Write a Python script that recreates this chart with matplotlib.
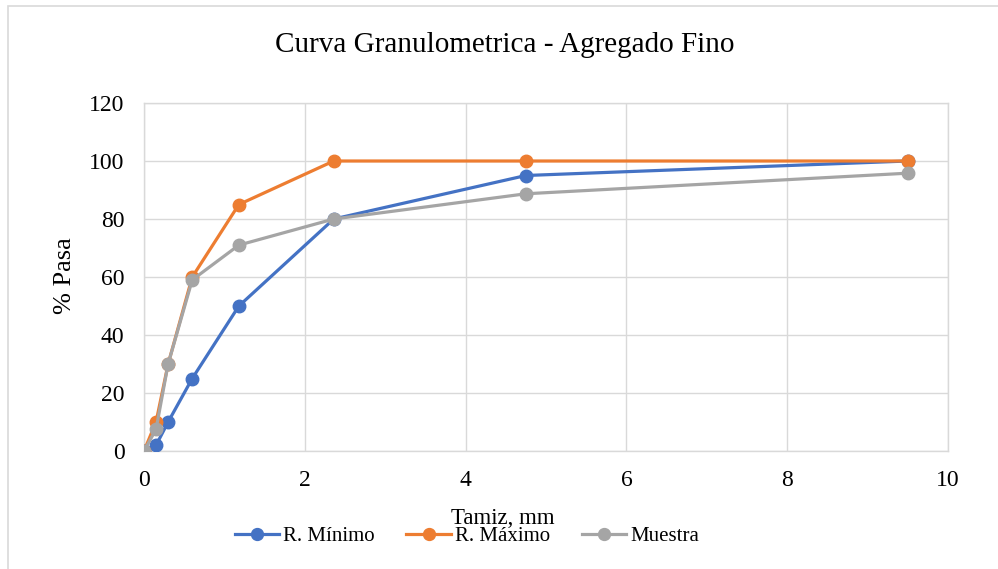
import matplotlib
matplotlib.use("Agg")
from matplotlib import pyplot as plt
from matplotlib.patches import Rectangle

# datos de la curva granulometrica
tamiz = [0, 0.15, 0.3, 0.6, 1.18, 2.36, 4.75, 9.5]
r_minimo = [0, 2, 10, 25, 50, 80, 95, 100]
r_maximo = [0, 10, 30, 60, 85, 100, 100, 100]
muestra = [0, 7.5, 30, 59, 71, 80, 88.7, 95.8]

plt.rcParams['font.family'] = ['Liberation Serif', 'DejaVu Serif']

fig = plt.figure(figsize=(9.98, 5.69), dpi=100)
# borde exterior del grafico (recortado a la derecha y abajo)
fig.patches.append(Rectangle((8 / 998, -0.05), 1.1, 1 - 6 / 569 + 0.05,
                             transform=fig.transFigure, fill=False,
                             edgecolor='#d9d9d9', linewidth=1.2))

ax = fig.add_axes([144 / 998, 1 - 451 / 569, 804 / 998, 348 / 569])

ax.plot(tamiz, r_minimo, color='#4472C4', lw=2.3, marker='o', ms=9, label='R. Mínimo', zorder=3)
ax.plot(tamiz, r_maximo, color='#ED7D31', lw=2.3, marker='o', ms=9, label='R. Máximo', zorder=3)
ax.plot(tamiz, muestra, color='#A5A5A5', lw=2.3, marker='o', ms=9, label='Muestra', zorder=4)

ax.set_xlim(0, 10)
ax.set_ylim(0, 120)
ax.set_xticks(range(0, 11, 2))
ax.set_yticks(range(0, 121, 20))
ax.grid(True, color='#d9d9d9', linewidth=1)
ax.set_axisbelow(True)
for s in ax.spines.values():
    s.set_color('#d9d9d9')
    s.set_linewidth(1)
ax.tick_params(length=0, labelsize=17, pad=14, colors='black')

fig.text(505 / 998, 1 - 45 / 569, 'Curva Granulometrica - Agregado Fino',
         ha='center', va='center', fontsize=21)
fig.text(503 / 998, 1 - 518 / 569, 'Tamiz, mm', ha='center', va='center', fontsize=16.5)
fig.text(65 / 998, 1 - 276 / 569, '% Pasa', ha='center', va='center',
         rotation=90, fontsize=19)

fig.legend(loc='center', bbox_to_anchor=(467 / 998, 1 - 536 / 569), ncol=3,
           frameon=False, fontsize=15, handlelength=2.15, handletextpad=0.2,
           columnspacing=1.5, borderaxespad=0, markerscale=0.95)

fig.savefig('out.png', dpi=100)
